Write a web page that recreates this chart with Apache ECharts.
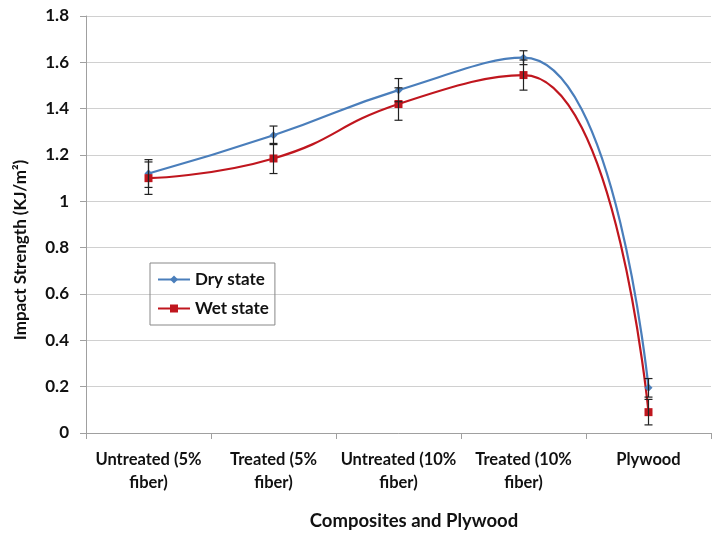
<!DOCTYPE html>
<html><head><meta charset="utf-8">
<script src="https://cdn.jsdelivr.net/npm/echarts@6/dist/echarts.min.js"></script>
<style>html,body{margin:0;padding:0;background:#fff}#c{width:712px;height:534px}</style>
</head><body><div id="c"></div>
<script>
var categories = ['Untreated (5%\nfiber)', 'Treated (5%\nfiber)', 'Untreated (10%\nfiber)', 'Treated (10%\nfiber)', 'Plywood'];
var dryValues = [1.12, 1.285, 1.48, 1.62, 0.195];
var wetValues = [1.10, 1.185, 1.42, 1.545, 0.09];
var dryErr = [0.06, 0.04, 0.05, 0.03, 0.04];
var wetErr = [0.07, 0.065, 0.07, 0.065, 0.055];
var yTicks = [0, 0.2, 0.4, 0.6, 0.8, 1, 1.2, 1.4, 1.6, 1.8];
var xTitle = 'Composites and Plywood';
var yTitle = 'Impact Strength (KJ/m²)';

var FONT = 'Lato';
function errData(vals, errs) {
  return vals.map(function (v, i) { return [i, v - errs[i], v + errs[i]]; });
}
function renderErr(params, api) {
  var x = api.value(0);
  var lo = api.coord([x, api.value(1)]);
  var hi = api.coord([x, api.value(2)]);
  var w = 4;
  var st = { stroke: '#222', lineWidth: 1.2 };
  return {
    type: 'group',
    children: [
      { type: 'line', shape: { x1: lo[0], y1: lo[1], x2: hi[0], y2: hi[1] }, style: st },
      { type: 'line', shape: { x1: lo[0] - w, y1: lo[1], x2: lo[0] + w, y2: lo[1] }, style: st },
      { type: 'line', shape: { x1: hi[0] - w, y1: hi[1], x2: hi[0] + w, y2: hi[1] }, style: st }
    ]
  };
}
var chart = echarts.init(document.getElementById('c'), null, { renderer: 'canvas' });
chart.setOption({
  animation: false,
  backgroundColor: '#fff',
  textStyle: { fontFamily: FONT },
  grid: { left: 86, right: 1, top: 16, bottom: 101, containLabel: false },
  graphic: [
    { type: 'text', x: 414, y: 521, style: { text: xTitle, align: 'center', verticalAlign: 'middle',
      font: 'bold 18.5px Lato', fill: '#111' } },
    { type: 'text', x: 21, y: 250, rotation: Math.PI / 2, style: { text: yTitle, align: 'center', verticalAlign: 'middle',
      font: 'bold 17px Lato', fill: '#111' } }
  ],
  legend: {
    left: 150, top: 263, orient: 'vertical',
    data: ['Dry state', 'Wet state'],
    borderColor: '#888', borderWidth: 1, padding: [8, 6, 8, 7], itemGap: 12,
    itemWidth: 32, itemHeight: 10,
    textStyle: { fontFamily: FONT, fontWeight: 'bold', fontSize: 17, color: '#111' }
  },
  xAxis: {
    type: 'category', data: categories, boundaryGap: true,
    axisLine: { lineStyle: { color: '#a0a0a0', width: 1 } },
    axisTick: { show: true, alignWithLabel: false, length: 6, lineStyle: { color: '#a0a0a0' } },
    axisLabel: { fontFamily: FONT, fontWeight: 'bold', fontSize: 16.5, color: '#111', margin: 15, lineHeight: 23, interval: 0 }
  },
  yAxis: {
    type: 'value', min: 0, max: 1.8, interval: 0.2,
    axisLine: { show: true, lineStyle: { color: '#a0a0a0' } },
    axisTick: { show: true, length: 6, inside: false, lineStyle: { color: '#a0a0a0' } },
    axisLabel: { fontFamily: FONT, fontWeight: 'bold', fontSize: 17, color: '#111', margin: 17,
      formatter: function (v) { var r = Math.round(v * 10) / 10; return yTicks.indexOf(r) >= 0 ? String(r) : ''; } },
    splitLine: { show: true, lineStyle: { color: '#d0d0d0', width: 1.2 } }
  },
  series: [
    { name: 'Dry state', type: 'line', data: dryValues, smooth: 0.5, symbol: 'diamond', symbolSize: 8,
      lineStyle: { color: '#4a7ebb', width: 2.2 }, itemStyle: { color: '#4a7ebb' }, z: 3 },
    { name: 'Wet state', type: 'line', data: wetValues, smooth: 0.5, symbol: 'rect', symbolSize: 8,
      lineStyle: { color: '#c0161e', width: 2.2 }, itemStyle: { color: '#c0161e' }, z: 3 },
    { type: 'custom', data: errData(dryValues, dryErr), renderItem: renderErr, z: 4, silent: true },
    { type: 'custom', data: errData(wetValues, wetErr), renderItem: renderErr, z: 4, silent: true }
  ]
});
</script></body></html>
